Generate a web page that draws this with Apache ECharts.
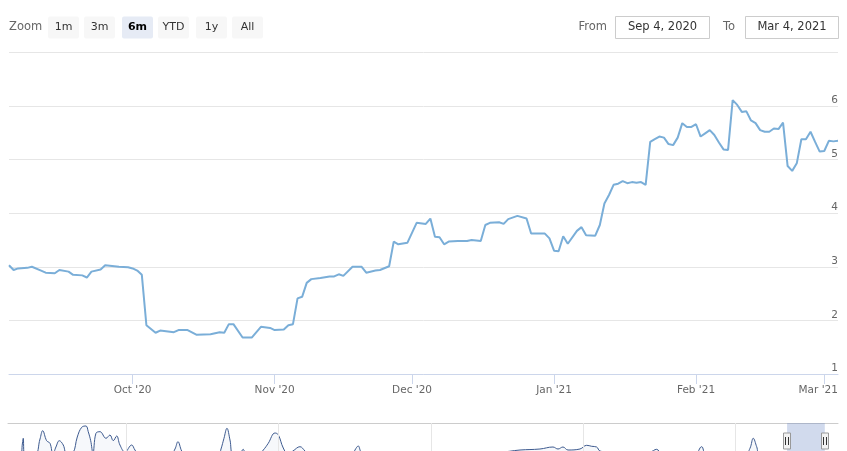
<!DOCTYPE html>
<html>
<head>
<meta charset="utf-8">
<script src="https://cdn.jsdelivr.net/npm/echarts@6/dist/echarts.min.js"></script>
<style>
html,body{margin:0;padding:0;background:#fff;}
#chart{width:847px;height:451px;}
</style>
</head>
<body>
<div id="chart"></div>
<script>
// ---- main series (6m window) ----
const dates = ['2020-09-04','2020-09-05','2020-09-06','2020-09-08','2020-09-09','2020-09-11','2020-09-12','2020-09-14','2020-09-15','2020-09-17','2020-09-18','2020-09-20','2020-09-21','2020-09-22','2020-09-24','2020-09-25','2020-09-27','2020-09-28','2020-09-30',
'2020-10-01','2020-10-02','2020-10-03','2020-10-04','2020-10-06','2020-10-07','2020-10-10','2020-10-11','2020-10-13','2020-10-15','2020-10-18','2020-10-20','2020-10-21','2020-10-22','2020-10-23','2020-10-25','2020-10-27','2020-10-29','2020-10-31',
'2020-11-01','2020-11-03','2020-11-04','2020-11-05','2020-11-06','2020-11-07','2020-11-08','2020-11-09','2020-11-11','2020-11-13','2020-11-14','2020-11-15','2020-11-16','2020-11-18','2020-11-20','2020-11-21','2020-11-23','2020-11-24','2020-11-26','2020-11-27','2020-11-28','2020-11-30',
'2020-12-02','2020-12-04','2020-12-05','2020-12-06','2020-12-07','2020-12-08','2020-12-09','2020-12-11','2020-12-13','2020-12-14','2020-12-16','2020-12-17','2020-12-18','2020-12-20','2020-12-21','2020-12-22','2020-12-24','2020-12-26','2020-12-27','2020-12-30','2020-12-31',
'2021-01-01','2021-01-02','2021-01-03','2021-01-04','2021-01-06','2021-01-07','2021-01-08','2021-01-10','2021-01-11','2021-01-12','2021-01-13','2021-01-14','2021-01-15','2021-01-16','2021-01-17','2021-01-18','2021-01-19','2021-01-20','2021-01-21','2021-01-22','2021-01-23','2021-01-24','2021-01-25','2021-01-26','2021-01-27','2021-01-28','2021-01-29','2021-01-30','2021-01-31',
'2021-02-01','2021-02-02','2021-02-03','2021-02-04','2021-02-05','2021-02-06','2021-02-07','2021-02-08','2021-02-09','2021-02-10','2021-02-11','2021-02-12','2021-02-13','2021-02-14','2021-02-15','2021-02-16','2021-02-17','2021-02-18','2021-02-19','2021-02-20','2021-02-21','2021-02-22','2021-02-23','2021-02-24','2021-02-25','2021-02-26','2021-02-27','2021-02-28',
'2021-03-01','2021-03-02','2021-03-03','2021-03-04'];
const values = [3.03,2.94,2.97,2.98,3.00,2.93,2.89,2.88,2.94,2.91,2.85,2.84,2.80,2.91,2.95,3.03,3.01,3.00,2.99,
2.97,2.93,2.85,1.91,1.77,1.81,1.78,1.82,1.82,1.73,1.74,1.78,1.77,1.93,1.93,1.68,1.68,1.88,1.86,
1.82,1.83,1.91,1.93,2.41,2.44,2.70,2.77,2.79,2.82,2.82,2.86,2.83,3.00,3.00,2.89,2.93,2.94,3.01,3.47,3.42,3.45,
3.82,3.80,3.90,3.56,3.55,3.42,3.47,3.48,3.48,3.50,3.48,3.78,3.82,3.83,3.80,3.89,3.95,3.90,3.62,3.62,3.53,
3.30,3.29,3.57,3.43,3.67,3.74,3.59,3.58,3.78,4.18,4.34,4.53,4.55,4.60,4.56,4.58,4.57,4.58,4.53,5.33,5.38,5.43,5.41,5.29,5.27,5.41,5.68,5.61,5.61,
5.66,5.43,5.49,5.55,5.46,5.32,5.19,5.18,6.11,6.02,5.89,5.90,5.73,5.68,5.55,5.52,5.52,5.58,5.57,5.69,4.88,4.79,4.93,5.38,5.38,5.52,5.33,5.15,
5.16,5.35,5.34,5.35];

// ---- x-axis ticks ----
const tickDates = ['2020-10-01','2020-11-01','2020-12-01','2021-01-01','2021-02-01','2021-03-01'];
const tickLabels = ["Oct '20","Nov '20","Dec '20","Jan '21","Feb '21","Mar '21"];

// ---- y-axis ----
const yMin = 1, yMax = 7, yStep = 1;

// ---- navigator (full history, decimal years) ----
const navYears = [2010.452,2010.609,2010.642,2010.652,2010.668,2010.806,2010.872,2010.907,2010.959,2011.003,2011.042,2011.081,2011.125,2011.177,2011.226,2011.305,2011.361,2011.419,2011.475,2011.505,2011.537,2011.567,2011.606,2011.659,2011.738,2011.790,2011.833,2011.878,2011.921,2011.987,2012.075,2012.118,2012.184,2012.577,2012.643,2012.682,2012.731,2012.787,2013.207,2013.247,2013.286,2013.325,2013.365,2013.404,2013.496,2013.539,2013.575,2013.732,2013.802,2013.867,2013.955,2013.998,2014.064,2014.126,2014.191,2014.283,2014.349,2014.414,2014.965,2015.005,2015.048,2015.084,2015.149,2015.595,2016.251,2016.907,2017.170,2017.432,2017.603,2017.669,2017.734,2017.800,2017.957,2018.045,2018.111,2018.176,2018.220,2018.482,2018.876,2018.964,2019.033,2019.466,2019.554,2019.611,2020.122,2020.188,2020.231,2020.276,2020.319,2020.713,2020.975,2021.171];
const navValues = [6,6,20,24.7,8,8,24,32.3,22.3,19.7,9,16,22.3,18,8,10,26,35.7,37,31.3,22.3,10,29.7,31.3,24.7,28,22.3,27,18,11,18,13,7,7,14,21.3,12,6,6,14,24.7,34.7,23,9,10,13.7,8,8,13,19.7,30,28.3,15,9,12,16.3,12,7,7,13,17,11,7,10,11,11,13,14,16,14,16,13,14,17.7,16.7,16,12,9,11,13.7,9,9,16.3,9,8,14.7,24.7,16.3,8,8,10,9];
const navGridYears = [2012,2014,2016,2018,2020];
const navMin = 2010.452, navMax = 2021.343;
const navLow = 12, navHigh = 40, handleLevel = 22;

// ---- range selector ----
const rangeButtons = ['1m','3m','6m','YTD','1y','All'];
const selectedButton = '6m';
const monthNames = ['Jan','Feb','Mar','Apr','May','Jun','Jul','Aug','Sep','Oct','Nov','Dec'];

function ts(s){ return echarts.time.parse(s).getTime(); }
function yearFrac(s){
  const d = echarts.time.parse(s);
  const y = d.getFullYear();
  const a = new Date(y,0,1), b = new Date(y+1,0,1);
  return y + (d - a)/(b - a);
}
function fmtDate(s){
  const d = echarts.time.parse(s);
  return monthNames[d.getMonth()] + ' ' + d.getDate() + ', ' + d.getFullYear();
}

const tickTimes = tickDates.map(ts);
const selStart = yearFrac(dates[0]);
const selEnd = yearFrac(dates[dates.length-1]);
const FONT = 'DejaVu Sans';

// header graphics
const graphics = [];
graphics.push({type:'text', x:9, y:27.5, style:{text:'Zoom', font:'11.5px "DejaVu Sans"', fill:'#666', verticalAlign:'middle'}});
const btnX = [48,84,122,158,196,232];
rangeButtons.forEach((b,i)=>{
  const sel = b === selectedButton;
  graphics.push({type:'rect', shape:{x:btnX[i], y:16.5, width:31, height:22, r:2}, style:{fill: sel ? '#e6ebf5' : '#f7f7f7'}});
  graphics.push({type:'text', x:btnX[i]+15.5, y:27.5, style:{text:b, font:(sel?'bold ':'')+'11px "DejaVu Sans"', fill: sel ? '#000' : '#333', align:'center', verticalAlign:'middle'}});
});
graphics.push({type:'text', x:607, y:27.5, style:{text:'From', font:'11.5px "DejaVu Sans"', fill:'#666', align:'right', verticalAlign:'middle'}});
graphics.push({type:'rect', shape:{x:615.5, y:16.5, width:94, height:22}, style:{fill:'#fff', stroke:'#cccccc', lineWidth:1}});
graphics.push({type:'text', x:662.5, y:27.5, style:{text:fmtDate(dates[0]), font:'11.5px "DejaVu Sans"', fill:'#333', align:'center', verticalAlign:'middle'}});
graphics.push({type:'text', x:735, y:27.5, style:{text:'To', font:'11.5px "DejaVu Sans"', fill:'#666', align:'right', verticalAlign:'middle'}});
graphics.push({type:'rect', shape:{x:745.5, y:16.5, width:93, height:22}, style:{fill:'#fff', stroke:'#cccccc', lineWidth:1}});
graphics.push({type:'text', x:792, y:27.5, style:{text:fmtDate(dates[dates.length-1]), font:'11.5px "DejaVu Sans"', fill:'#333', align:'center', verticalAlign:'middle'}});

const chart = echarts.init(document.getElementById('chart'), null, {renderer:'canvas'});
chart.setOption({
  animation:false,
  backgroundColor:'#fff',
  textStyle:{fontFamily:FONT},
  graphic: graphics,
  grid:[
    {left:9, right:9, top:52.4, bottom:77},
    {left:8, right:9, top:423, bottom:0}
  ],
  xAxis:[
    {type:'value', gridIndex:0, min:ts(dates[0]), max:ts(dates[dates.length-1]),
     axisLine:{show:true, lineStyle:{color:'#ccd6eb', width:1}},
     axisTick:{show:true, length:10, customValues:tickTimes, lineStyle:{color:'#ccd6eb'}},
     axisLabel:{customValues:tickTimes, margin:11, color:'#666', fontSize:10.5, fontFamily:FONT,
       rich:{last:{padding:[0,12,0,0], color:'#666', fontSize:10.5, fontFamily:FONT}},
       formatter:function(v){
         const i = tickTimes.indexOf(+v);
         if (i < 0) return '';
         return i === tickTimes.length-1 ? '{last|' + tickLabels[i] + '}' : tickLabels[i];
       }},
     splitLine:{show:false}},
    {type:'value', gridIndex:1, min:navMin, max:navMax, position:'top',
     axisLine:{show:true, lineStyle:{color:'#cccccc', width:1}},
     axisTick:{show:false}, axisLabel:{show:false}, splitLine:{show:false}}
  ],
  yAxis:[
    {type:'value', gridIndex:0, min:yMin, max:yMax, interval:yStep, position:'right',
     axisLine:{show:false}, axisTick:{show:false},
     axisLabel:{inside:true, margin:0, verticalAlign:'bottom', color:'#666', fontSize:10.5, fontFamily:FONT, showMaxLabel:false},
     splitLine:{show:true, lineStyle:{color:'#e6e6e6', width:1}}},
    {type:'value', gridIndex:1, min:navLow, max:navHigh, show:false}
  ],
  series:[
    {type:'line', xAxisIndex:0, yAxisIndex:0, data: dates.map((d,i)=>[ts(d), values[i]]),
     showSymbol:false, symbol:'none', lineStyle:{color:'#7aaed8', width:2}, silent:true},
    {type:'line', xAxisIndex:1, yAxisIndex:1, data: navYears.map((y,i)=>[y, navValues[i]]),
     smooth:0.4, showSymbol:false, symbol:'none', silent:true, clip:true,
     lineStyle:{color:'#3d5a8f', width:1}, areaStyle:{color:'rgba(51,92,173,0.06)'},
     markLine:{silent:true, symbol:['none','none'], label:{show:false},
       lineStyle:{color:'#e6e6e6', type:'solid', width:1},
       data: navGridYears.map(y=>({xAxis:y}))},
     markArea:{silent:true, itemStyle:{color:'rgba(102,133,194,0.3)'},
       data:[[{xAxis:selStart},{xAxis:selEnd}]]}},
    {type:'custom', xAxisIndex:1, yAxisIndex:1, silent:true, z:5,
     data:[[selStart, handleLevel],[selEnd, handleLevel]],
     renderItem:function(params, api){
       const p = api.coord([api.value(0), api.value(1)]);
       const cx = Math.round(p[0]);
       return {type:'group', children:[
         {type:'rect', shape:{x:cx-3.5, y:p[1]-8, width:7, height:16}, style:{fill:'#f2f2f2', stroke:'#999999', lineWidth:1}},
         {type:'line', shape:{x1:cx-1.5, y1:p[1]-4, x2:cx-1.5, y2:p[1]+4}, style:{stroke:'#333', lineWidth:1}},
         {type:'line', shape:{x1:cx+1.5, y1:p[1]-4, x2:cx+1.5, y2:p[1]+4}, style:{stroke:'#333', lineWidth:1}}
       ]};
     }}
  ]
});
</script>
</body>
</html>
